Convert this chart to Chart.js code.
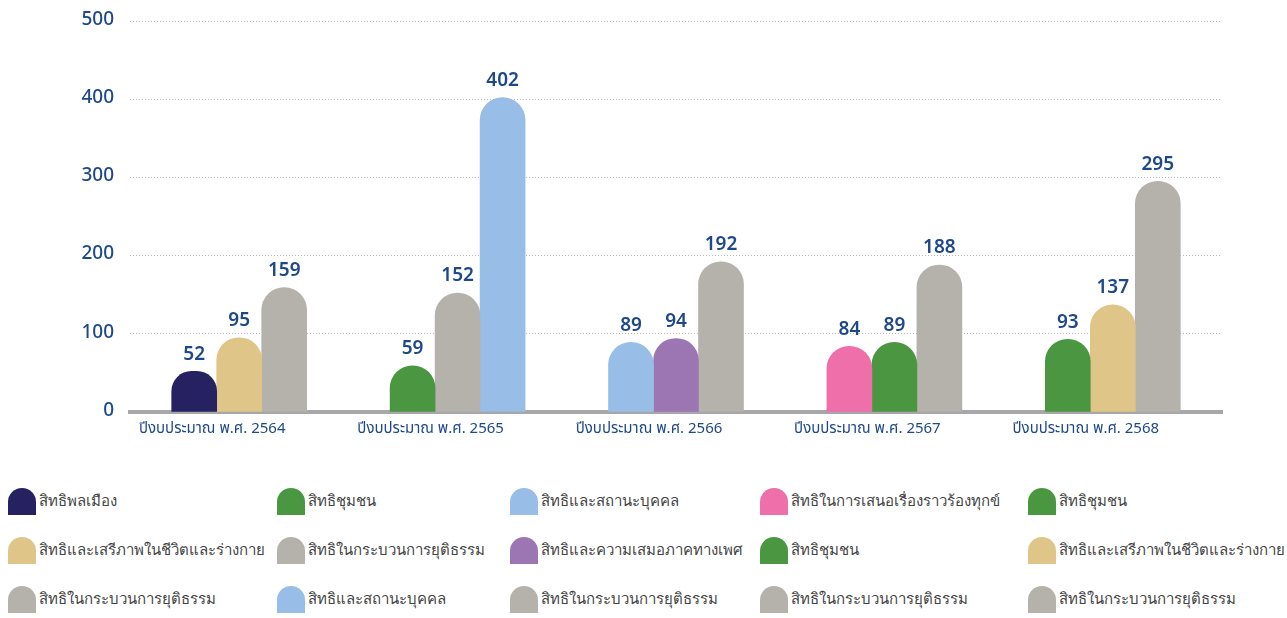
<!DOCTYPE html>
<html>
<head>
<meta charset="utf-8">
<script src="https://cdn.jsdelivr.net/npm/chart.js@4/dist/chart.umd.min.js"></script>
<style>
	body { margin: 0; background: #fff; font-family: "Noto Sans", "Open Sans", sans-serif; }
	#wrap { position: relative; width: 1287px; height: 618px; }
	#chartBox { position: absolute; left: 0; top: 0; width: 1287px; height: 440px; }
	#legend {
		position: absolute; left: 8px; top: 486px;
		display: grid;
		grid-template-columns: 269px 233px 250px 268px 250px;
		grid-template-rows: 49px 49px 49px;
		grid-auto-flow: column;
	}
	.item { display: flex; align-items: center; height: 30px; font-size: 15px; color: #444; white-space: nowrap; }
	.swatch { width: 28px; height: 27px; border-radius: 14px 14px 0 0; margin-right: 3px; flex: none; }
</style>
</head>
<body>
<div id="wrap">
	<div id="chartBox"><canvas id="myChart"></canvas></div>
	<div id="legend"></div>
</div>
<script>
/* Fiscal years (categories) */
var years = ['ปีงบประมาณ พ.ศ. 2564', 'ปีงบประมาณ พ.ศ. 2565', 'ปีงบประมาณ พ.ศ. 2566',
             'ปีงบประมาณ พ.ศ. 2567', 'ปีงบประมาณ พ.ศ. 2568'];

/* Series names, values and colours for each year, in bar order */
var names2564 = ['สิทธิพลเมือง', 'สิทธิและเสรีภาพในชีวิตและร่างกาย', 'สิทธิในกระบวนการยุติธรรม'];
var values2564 = [52, 95, 159];
var colors2564 = ['#262262', '#dfc688', '#b5b2ab'];

var names2565 = ['สิทธิชุมชน', 'สิทธิในกระบวนการยุติธรรม', 'สิทธิและสถานะบุคคล'];
var values2565 = [59, 152, 402];
var colors2565 = ['#4a9641', '#b5b2ab', '#98bde6'];

var names2566 = ['สิทธิและสถานะบุคคล', 'สิทธิและความเสมอภาคทางเพศ', 'สิทธิในกระบวนการยุติธรรม'];
var values2566 = [89, 94, 192];
var colors2566 = ['#98bde6', '#9c75b3', '#b5b2ab'];

var names2567 = ['สิทธิในการเสนอเรื่องราวร้องทุกข์', 'สิทธิชุมชน', 'สิทธิในกระบวนการยุติธรรม'];
var values2567 = [84, 89, 188];
var colors2567 = ['#ef6fab', '#4a9641', '#b5b2ab'];

var names2568 = ['สิทธิชุมชน', 'สิทธิและเสรีภาพในชีวิตและร่างกาย', 'สิทธิในกระบวนการยุติธรรม'];
var values2568 = [93, 137, 295];
var colors2568 = ['#4a9641', '#dfc688', '#b5b2ab'];

/* Y axis ticks */
var yMin = 0;
var yMax = 500;
var yStep = 100;

var textBlue = '#1d4889';
var thaiFont = '"Noto Sans Thai", "Noto Sans", sans-serif';

/**
 * Builds one dataset per bar, each holding a value only in its own year.
 */
function buildDatasets() {
	var groups = [
		[names2564, values2564, colors2564],
		[names2565, values2565, colors2565],
		[names2566, values2566, colors2566],
		[names2567, values2567, colors2567],
		[names2568, values2568, colors2568]
	];
	var sets = [];
	for (var g = 0; g < groups.length; g++) {
		for (var k = 0; k < groups[g][0].length; k++) {
			var data = years.map(function () { return null; });
			data[g] = groups[g][1][k];
			sets.push({
				label: groups[g][0][k],
				data: data,
				backgroundColor: groups[g][2][k],
				borderRadius: { topLeft: 23, topRight: 23 },
				borderSkipped: 'start',
				barThickness: 45,
				skipNull: true
			});
		}
	}
	return sets;
}

/* Draws the value above each bar */
var valueLabels = {
	id: 'valueLabels',
	afterDatasetsDraw: function (chart) {
		var ctx = chart.ctx;
		ctx.save();
		ctx.font = '600 19px ' + thaiFont;
		ctx.fillStyle = textBlue;
		ctx.textAlign = 'center';
		ctx.textBaseline = 'bottom';
		chart.data.datasets.forEach(function (ds, i) {
			chart.getDatasetMeta(i).data.forEach(function (bar, j) {
				if (ds.data[j] === null) return;
				ctx.fillText(ds.data[j], bar.x, bar.y - 6);
			});
		});
		ctx.restore();
	}
};

var datasets = buildDatasets();

const myChart = document.getElementById('myChart').getContext('2d');

let chart1 = new Chart(myChart, {
	type: 'bar',
	data: {
		labels: years,
		datasets: datasets
	},
	options: {
		responsive: true,
		maintainAspectRatio: false,
		animation: false,
		layout: {
			padding: { left: 12, right: 65, top: 21, bottom: 0 }
		},
		plugins: {
			legend: { display: false },
			tooltip: { enabled: false }
		},
		scales: {
			x: {
				grid: { display: false },
				border: { color: '#a7a7aa', width: 4 },
				ticks: {
					color: textBlue,
					font: { family: thaiFont, size: 15 },
					labelOffset: -27,
					padding: 1
				}
			},
			y: {
				min: yMin,
				max: yMax,
				afterFit: function (scale) {
					scale.width = 118;
					scale.paddingTop = 0;
				},
				border: { display: false, dash: [1, 2] },
				grid: {
					color: '#b9b9b9',
					lineWidth: 1,
					tickLength: 0
				},
				ticks: {
					stepSize: yStep,
					color: textBlue,
					padding: 16,
					font: { family: thaiFont, size: 19, weight: '500' }
				}
			}
		}
	},
	plugins: [valueLabels]
});

/* HTML legend, one column per year */
var legend = document.getElementById('legend');
datasets.forEach(function (ds) {
	var item = document.createElement('div');
	item.className = 'item';
	var sw = document.createElement('span');
	sw.className = 'swatch';
	sw.style.background = ds.backgroundColor;
	var tx = document.createElement('span');
	tx.textContent = ds.label;
	item.appendChild(sw);
	item.appendChild(tx);
	legend.appendChild(item);
});
</script>
</body>
</html>
